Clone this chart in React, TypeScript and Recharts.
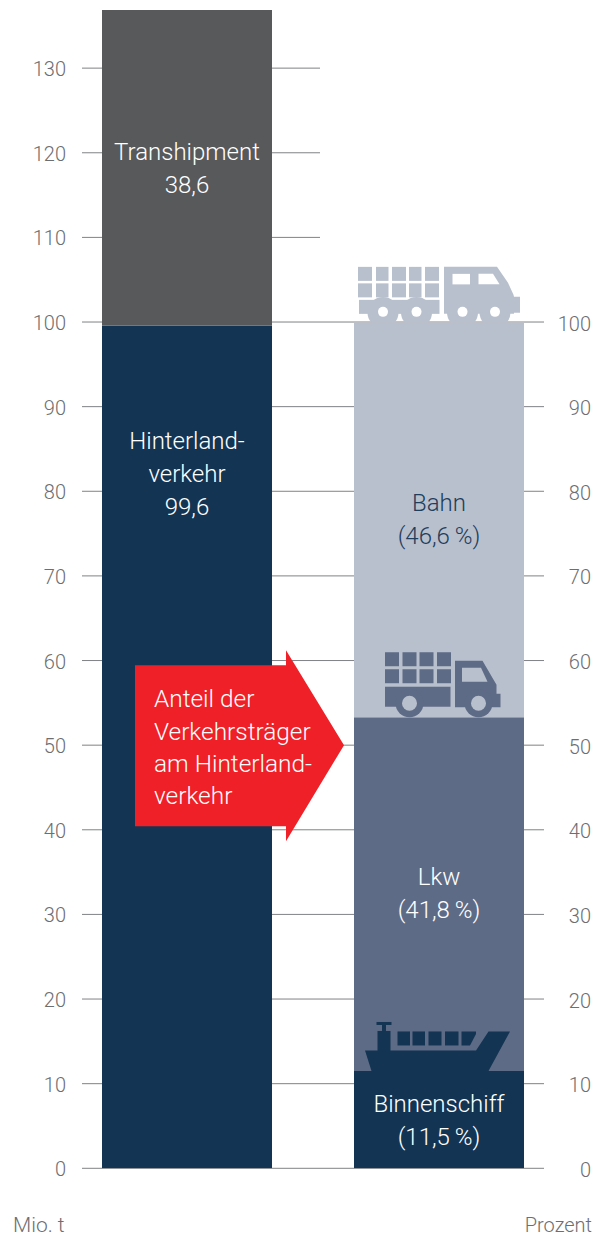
import React from 'react';
import {
  BarChart,
  Bar,
  XAxis,
  YAxis,
  CartesianGrid,
  ReferenceDot
} from 'recharts';

const categories = ['Mio. t', 'Prozent'];
const hinterland = [99.6, null];
const transhipment = [38.6, null];
const binnenschiff = [null, 11.5];
const lkw = [null, 41.8];
const bahn = [null, 46.6];

const leftTicks = [0, 10, 20, 30, 40, 50, 60, 70, 80, 90, 100, 110, 120, 130];
const rightTicks = [0, 10, 20, 30, 40, 50, 60, 70, 80, 90, 100];

const data = categories.map((name, i) => ({
  name,
  hinterland: hinterland[i],
  transhipment: transhipment[i],
  binnenschiff: binnenschiff[i],
  lkw: lkw[i],
  bahn: bahn[i]
}));

const lkwTop = (binnenschiff[1] as number) + (lkw[1] as number);
const bahnTop = lkwTop + (bahn[1] as number);

const FONT = 'Roboto, sans-serif';
const GREY = '#58595b';
const NAVY = '#133553';
const SLATE = '#5e6b86';
const MIST = '#b9c0cd';
const RED = '#ef2027';
const TICK = '#6d6e71';
const LINE = '#808285';

const LeftTick = ({ y, payload }: any) => (
  <text x={66} y={y + 8} textAnchor="end" fontSize={20} fontWeight={300} fontFamily={FONT} fill={TICK}>
    {payload.value}
  </text>
);

const RightTick = ({ y, payload }: any) => (
  <text x={591} y={y + 8.5} textAnchor="end" fontSize={20} fontWeight={300} fontFamily={FONT} fill={TICK}>
    {payload.value}
  </text>
);

const CategoryTick = ({ payload, index }: any) => (
  <text
    x={index === 0 ? 13 : 592}
    y={1232}
    textAnchor={index === 0 ? 'start' : 'end'}
    fontSize={index === 0 ? 21 : 20}
    fontWeight={300}
    fontFamily={FONT}
    fill={TICK}
  >
    {payload.value}
  </text>
);

// lines stop short above 100, where the right column ends
const GridLine = ({ y1, index }: any) => {
  if (leftTicks[index] == null) return <g key={index} />;
  return (
    <line
      key={index}
      x1={82}
      x2={leftTicks[index] > 100 ? 320 : 544}
      y1={y1}
      y2={y1}
      stroke={LINE}
      strokeWidth={1}
    />
  );
};

const barLabel = (lines: string[], first: number, fill: string) => (props: any) => {
  const { x, y, width, value } = props;
  if (value == null || !width) return null;
  return (
    <text textAnchor="middle" fontSize={24} fontWeight={300} fontFamily={FONT} fill={fill}>
      {lines.map((line, i) => (
        <tspan key={line} x={x + width / 2} y={y + first + i * 33}>
          {line}
        </tspan>
      ))}
    </text>
  );
};

const Train = ({ cx, cy }: any) => (
  <g transform={`translate(${cx - 439} ${cy - 322})`} fill={MIST}>
    {[[358, 14], [376, 12.5], [392, 14], [409, 12.5], [425, 14]].map(([x, w]) => (
      <g key={x}>
        <rect x={x} y={266} width={w} height={14} />
        <rect x={x} y={282.5} width={w} height={14} />
      </g>
    ))}
    <rect x={359} y={299} width={80.5} height={14} />
    <polygon points="444,266 497,266 508,282 513.5,294 514,296 520,296 520,312 514,312 514,313 444,313" />
    {[383, 416.5, 462.5, 495].map(x => (
      <g key={x}>
        <path d={`M${x - 11.5} 322 A15.5 15.5 0 1 1 ${x + 11.5} 322 Z`} />
        <circle cx={x} cy={311} r={5} fill="#ffffff" />
      </g>
    ))}
    <rect x={452.5} y={273} width={17.5} height={10.5} fill="#ffffff" />
    <polygon points="478.5,273 493,273 499.5,283.5 478.5,283.5" fill="#ffffff" />
  </g>
);

const Truck = ({ cx, cy }: any) => (
  <g transform={`translate(${cx - 439} ${cy - 716})`} fill={SLATE}>
    {[385, 402.5, 419.5, 437].map(x => (
      <g key={x}>
        <rect x={x} y={651} width={14} height={14} />
        <rect x={x} y={668} width={14} height={14} />
      </g>
    ))}
    <rect x={385} y={685.5} width={65.5} height={20} />
    <polygon points="455,659.5 482.5,659.5 496.5,683.5 496.5,692.5 500.5,692.5 500.5,706 455,706" />
    <polygon points="462,666.5 481,666.5 487.5,680.5 462,680.5" fill={MIST} />
    {[409.5, 478.5].map(x => (
      <g key={x}>
        <circle cx={x} cy={702} r={14} />
        <circle cx={x} cy={702} r={7.5} fill={MIST} />
      </g>
    ))}
  </g>
);

const Ship = ({ cx, cy }: any) => (
  <g transform={`translate(${cx - 439} ${cy - 1069})`} fill={NAVY}>
    <polygon points="365,1048.5 476,1048.5 488.5,1029.5 510,1029.5 488.5,1069 371.5,1069" />
    <rect x={377.5} y={1029} width={13} height={20} />
    <rect x={382} y={1023} width={4} height={6} />
    <rect x={376.5} y={1020} width={15} height={3} />
    {[[397.5, 12.5], [412.5, 12.5], [428.5, 13], [445, 13.5]].map(([x, w]) => (
      <rect key={x} x={x} y={1029.5} width={w} height={14} />
    ))}
    <polygon points="461.5,1029.5 476,1029.5 476,1032 470,1043.5 461.5,1043.5" />
  </g>
);

const Arrow = ({ cx, cy }: any) => (
  <g transform={`translate(${cx - 187} ${cy - 745})`}>
    <polygon points="135,665 286,665 286,650 344,745 286,841 286,826 135,826" fill={RED} />
    <text fontSize={24.4} fontWeight={300} fontFamily={FONT} fill="#ffffff">
      <tspan x={154} y={707}>Anteil der</tspan>
      <tspan x={154} y={739.5}>Verkehrsträger</tspan>
      <tspan x={154} y={771.5}>am Hinterland-</tspan>
      <tspan x={154} y={804}>verkehr</tspan>
    </text>
  </g>
);

export default function App() {
  return (
    <div style={{ position: 'absolute', left: 0, top: 0, width: 607, height: 1234 }}>
      <BarChart
        width={607}
        height={1234}
        data={data}
        barSize={170}
        margin={{ top: 10, right: 2, bottom: 0, left: 1 }}
      >
        <CartesianGrid yAxisId="left" vertical={false} horizontal={GridLine} />
        <XAxis
          dataKey="name"
          height={65.7}
          axisLine={false}
          tickLine={false}
          interval={0}
          tick={<CategoryTick />}
        />
        <YAxis
          yAxisId="left"
          width={60}
          domain={[0, 136.87]}
          allowDataOverflow
          ticks={leftTicks}
          interval={0}
          axisLine={false}
          tickLine={false}
          tick={<LeftTick />}
        />
        <YAxis
          yAxisId="right"
          orientation="right"
          width={40}
          domain={[0, 136.87]}
          allowDataOverflow
          ticks={rightTicks}
          interval={0}
          axisLine={false}
          tickLine={false}
          tick={<RightTick />}
        />
        <Bar yAxisId="left" dataKey="hinterland" stackId="a" fill={NAVY} isAnimationActive={false}
          label={barLabel(['Hinterland-', 'verkehr', '99,6'], 123.5, '#ffffff')} />
        <Bar yAxisId="left" dataKey="transhipment" stackId="a" fill={GREY} isAnimationActive={false}
          label={barLabel(['Transhipment', '38,6'], 150, '#ffffff')} />
        <Bar yAxisId="left" dataKey="binnenschiff" stackId="a" fill={NAVY} isAnimationActive={false}
          label={barLabel(['Binnenschiff', '(11,5\u2009%)'], 41, '#ffffff')} />
        <Bar yAxisId="left" dataKey="lkw" stackId="a" fill={SLATE} isAnimationActive={false}
          label={barLabel(['Lkw', '(41,8\u2009%)'], 168, '#ffffff')} />
        <Bar yAxisId="left" dataKey="bahn" stackId="a" fill={MIST} isAnimationActive={false}
          label={barLabel(['Bahn', '(46,6\u2009%)'], 188.5, '#1f3d5c')} />
        <ReferenceDot yAxisId="left" x="Prozent" y={bahnTop} ifOverflow="visible" shape={<Train />} />
        <ReferenceDot yAxisId="left" x="Prozent" y={lkwTop} ifOverflow="visible" shape={<Truck />} />
        <ReferenceDot yAxisId="left" x="Prozent" y={binnenschiff[1] as number} ifOverflow="visible" shape={<Ship />} />
        <ReferenceDot yAxisId="left" x="Mio. t" y={50} ifOverflow="visible" shape={<Arrow />} />
      </BarChart>
    </div>
  );
}
